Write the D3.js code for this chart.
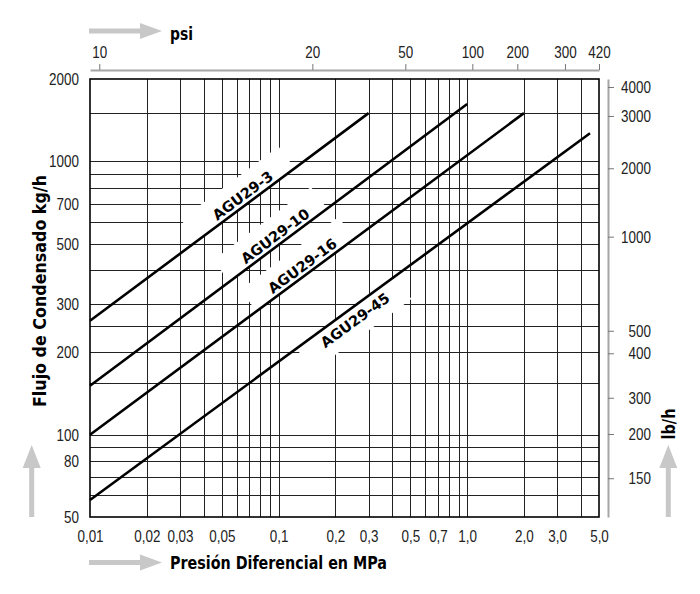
<!DOCTYPE html>
<html>
<head>
<meta charset="utf-8">
<script src="https://cdn.jsdelivr.net/npm/d3@7"></script>
<style>
  html, body { margin: 0; padding: 0; background: #fff; }
  svg { display: block; }
</style>
</head>
<body>
<svg id="chart" width="700" height="594"></svg>
<script>
// ---------- data ----------
const seriesNames   = ["AGU29-3", "AGU29-10", "AGU29-16", "AGU29-45"];
const pressureStart = [0.01, 0.01, 0.01, 0.01];      // MPa
const pressureEnd   = [0.3, 1.0, 2.0, 4.48];         // MPa
const flowStart     = [261, 151, 100, 57.7];          // kg/h
const flowEnd       = [1500, 1620, 1500, 1266];       // kg/h
const labelAtPressure = [0.069, 0.1025, 0.143, 0.2336];
const labelBelow      = [false, false, false, true];

const pressureTicks      = [0.01, 0.02, 0.03, 0.05, 0.1, 0.2, 0.3, 0.5, 0.7, 1, 2, 3, 5];
const pressureTickLabels = ["0,01","0,02","0,03","0,05","0,1","0,2","0,3","0,5","0,7","1,0","2,0","3,0","5,0"];
const pressureGrid = [0.02,0.03,0.04,0.05,0.06,0.07,0.08,0.09,0.1,0.2,0.3,0.4,0.5,0.6,0.7,0.8,0.9,1,2,3,4];

const flowTicks  = [50, 80, 100, 200, 300, 500, 700, 1000, 2000];
const flowGrid   = [60, 70, 80, 90, 100, 155, 200, 250, 300, 400, 500, 600, 700, 800, 900, 1000, 1500];

const psiTickLabels = ["10", "20", "50", "100", "200", "300", "420"];
const psiTickAtMPa  = [0.0112, 0.151, 0.47, 1.065, 1.844, 3.3, 5.0];

const lbTickLabels = ["4000", "3000", "2000", "1000", "500", "400", "300", "200", "150"];
const lbTickAtKg   = [1870, 1465, 943, 530, 240, 198.5, 136.5, 100.6, 69.3];

// ---------- layout ----------
const L = 90, R = 599, T = 79, B = 517;
const svg = d3.select("#chart");
const x = d3.scaleLog().domain([0.01, 5]).range([L, R]);
const y = d3.scaleLog().domain([50, 2000]).range([B, T]);

const tickFont = "'Liberation Sans', Arial, sans-serif";
const boldFont = "'DejaVu Sans', Verdana, sans-serif";
const grey = "#c8c8c8";
const axisGrey = "#a6a6a6";

// narrow the tick labels (reference uses a condensed face)
function condense(sel) {
  sel.each(function () {
    const len = this.getComputedTextLength();
    d3.select(this).attr("textLength", len * 0.79).attr("lengthAdjust", "spacingAndGlyphs");
  });
}

// grid
const grid = svg.append("g").attr("shape-rendering", "crispEdges");
grid.selectAll("line.v").data(pressureGrid).join("line")
  .attr("x1", d => Math.round(x(d)) + 0.5).attr("x2", d => Math.round(x(d)) + 0.5)
  .attr("y1", T).attr("y2", B)
  .attr("stroke", "#222").attr("stroke-width", 1);
grid.selectAll("line.h").data(flowGrid).join("line")
  .attr("y1", d => Math.round(y(d)) + 0.5).attr("y2", d => Math.round(y(d)) + 0.5)
  .attr("x1", L).attr("x2", R)
  .attr("stroke", "#222").attr("stroke-width", 1);

// series geometry
const series = seriesNames.map((name, i) => {
  const p0 = [x(pressureStart[i]), y(flowStart[i])];
  const p1 = [x(pressureEnd[i]), y(flowEnd[i])];
  const ang = Math.atan2(p1[1] - p0[1], p1[0] - p0[0]) * 180 / Math.PI;
  const t = Math.log(labelAtPressure[i] / pressureStart[i]) / Math.log(pressureEnd[i] / pressureStart[i]);
  const q = flowStart[i] * Math.pow(flowEnd[i] / flowStart[i], t);
  return { name, i, ang, lx: x(labelAtPressure[i]), ly: y(q), below: labelBelow[i] };
});

// white cut-outs behind the labels
svg.append("g").selectAll("rect").data(series).join("rect")
  .attr("transform", d => `translate(${d.lx},${d.ly}) rotate(${d.ang})`)
  .attr("x", -64).attr("width", 122)
  .attr("y", d => d.below ? 0 : -27).attr("height", d => d.below ? 28 : 27)
  .attr("fill", "#fff");

// frame
svg.append("rect").attr("x", L).attr("y", T).attr("width", R - L).attr("height", B - T)
  .attr("fill", "none").attr("stroke", "#000").attr("stroke-width", 1.6);

// curves
const line = d3.line().x(d => x(d[0])).y(d => y(d[1]));
svg.append("g").selectAll("path").data(seriesNames).join("path")
  .attr("d", (d, i) => line([[pressureStart[i], flowStart[i]], [pressureEnd[i], flowEnd[i]]]))
  .attr("fill", "none").attr("stroke", "#000").attr("stroke-width", 2.6);

// curve labels
svg.append("g").selectAll("text").data(series).join("text")
  .attr("transform", d => `translate(${d.lx},${d.ly}) rotate(${d.ang})`)
  .attr("y", d => d.below ? 17 : -4)
  .attr("text-anchor", "middle")
  .attr("font-family", boldFont).attr("font-weight", "bold").attr("font-size", 14.5)
  .attr("fill", "#000")
  .text(d => d.name);

// bottom axis labels
const gx = svg.append("g").attr("transform", `translate(0,${B})`)
  .call(d3.axisBottom(x).tickValues(pressureTicks).tickFormat((d, i) => pressureTickLabels[i])
        .tickSize(0).tickPadding(13));
gx.select(".domain").remove();
gx.selectAll("text").attr("font-family", tickFont).attr("font-size", 17).attr("fill", "#222").call(condense);

// left axis labels
const gy = svg.append("g").attr("transform", `translate(${L},0)`)
  .call(d3.axisLeft(y).tickValues(flowTicks).tickFormat(d3.format("d")).tickSize(0).tickPadding(11));
gy.select(".domain").remove();
gy.selectAll("text").attr("font-family", tickFont).attr("font-size", 17).attr("fill", "#222").call(condense);

// top psi axis
const gt = svg.append("g").attr("transform", "translate(0,70)")
  .call(d3.axisTop(x).tickValues(psiTickAtMPa).tickFormat((d, i) => psiTickLabels[i])
        .tickSize(6).tickSizeOuter(0).tickPadding(6));
gt.select(".domain").attr("stroke", axisGrey).attr("stroke-width", 2);
gt.selectAll(".tick line").attr("stroke", "#777").attr("stroke-width", 1);
gt.selectAll("text").attr("font-family", tickFont).attr("font-size", 17).attr("fill", "#222").call(condense);

// right lb/h axis
const gr = svg.append("g").attr("transform", "translate(608,0)")
  .call(d3.axisRight(y).tickValues(lbTickAtKg).tickFormat((d, i) => lbTickLabels[i])
        .tickSize(6).tickSizeOuter(0));
gr.select(".domain").attr("stroke", axisGrey).attr("stroke-width", 2);
gr.selectAll(".tick line").attr("stroke", "#777").attr("stroke-width", 1);
gr.selectAll("text").attr("font-family", tickFont).attr("font-size", 17).attr("fill", "#222")
  .attr("text-anchor", "end").attr("x", 43).call(condense);

// titles
svg.append("text").attr("x", 170).attr("y", 569)
  .attr("font-family", boldFont).attr("font-weight", "bold").attr("font-size", 17)
  .attr("textLength", 217).attr("lengthAdjust", "spacingAndGlyphs")
  .text("Presión Diferencial en MPa");
svg.append("text").attr("transform", "translate(46,291) rotate(-90)")
  .attr("text-anchor", "middle")
  .attr("font-family", boldFont).attr("font-weight", "bold").attr("font-size", 17)
  .attr("textLength", 232).attr("lengthAdjust", "spacingAndGlyphs")
  .text("Flujo de Condensado kg/h");
svg.append("text").attr("x", 170).attr("y", 40)
  .attr("font-family", boldFont).attr("font-weight", "bold").attr("font-size", 17)
  .attr("textLength", 23).attr("lengthAdjust", "spacingAndGlyphs")
  .text("psi");
svg.append("text").attr("transform", "translate(675,424) rotate(-90)")
  .attr("text-anchor", "middle")
  .attr("font-family", boldFont).attr("font-weight", "bold").attr("font-size", 17)
  .attr("textLength", 31).attr("lengthAdjust", "spacingAndGlyphs")
  .text("lb/h");

// grey direction arrows
function hArrow(x0, x1, cy) {
  const head = 22;
  svg.append("path").attr("fill", grey)
    .attr("d", `M${x0},${cy - 2.5}H${x1 - head}V${cy - 8}L${x1},${cy}L${x1 - head},${cy + 8}V${cy + 2.5}H${x0}Z`);
}
function vArrow(cx, y0, y1) {
  const head = 23;
  svg.append("path").attr("fill", grey)
    .attr("d", `M${cx - 2.5},${y0}V${y1 + head}H${cx - 9}L${cx},${y1}L${cx + 9},${y1 + head}H${cx + 2.5}V${y0}Z`);
}
hArrow(89, 162, 31);
hArrow(89, 162, 562.5);
vArrow(31.7, 517, 445);
vArrow(668.3, 517, 445);
</script>
</body>
</html>
